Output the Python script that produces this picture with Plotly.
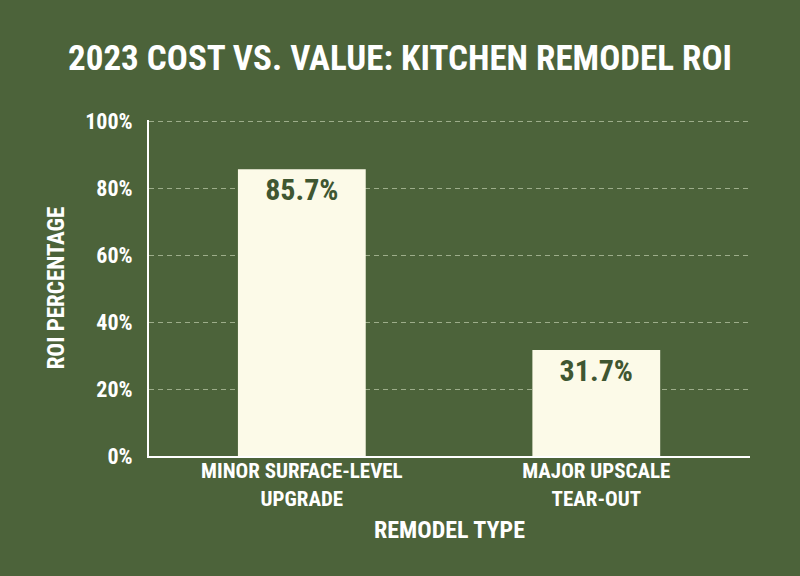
import plotly.graph_objects as go

categories = ["MINOR SURFACE-LEVEL<br>UPGRADE", "MAJOR UPSCALE<br>TEAR-OUT"]
roi_values = [85.7, 31.7]
value_labels = ["85.7%", "31.7%"]
y_ticks = [0, 20, 40, 60, 80, 100]
y_tick_labels = ["0%", "20%", "40%", "60%", "80%", "100%"]

BG = "#4c633a"
CREAM = "#fcfae8"
DARK = "#3f5631"
GRID = "#9dad8a"
FONT = "Roboto Condensed, Liberation Sans Narrow, Roboto, sans-serif"

fig = go.Figure()
fig.add_trace(
    go.Bar(
        x=categories,
        y=roi_values,
        text=value_labels,
        textposition="inside",
        insidetextanchor="end",
        textangle=0,
        textfont=dict(family=FONT, size=30, color=DARK, weight="bold"),
        marker=dict(color=CREAM, line=dict(width=0)),
        width=0.434,
        hoverinfo="skip",
    )
)

fig.update_layout(
    width=800,
    height=576,
    paper_bgcolor=BG,
    plot_bgcolor=BG,
    margin=dict(l=149, r=50, t=120, b=120),
    showlegend=False,
    title=dict(
        text="<b>2023 COST VS. VALUE: KITCHEN REMODEL ROI</b>",
        x=0.5,
        xanchor="center",
        y=0.9,
        yanchor="middle",
        font=dict(family=FONT, size=35, color="white"),
    ),
    font=dict(family=FONT, color="white"),
    uniformtext=dict(mode="show", minsize=10),
)

fig.update_xaxes(
    title=dict(text="<b>REMODEL TYPE</b>", font=dict(size=24, color="white"), standoff=12),
    tickfont=dict(size=21, color="white", weight="bold"),
    range=[-0.519, 1.522],
    showline=True,
    linecolor="white",
    linewidth=2,
    showgrid=False,
    ticks="",
    ticklabelstandoff=-5,
)

fig.update_yaxes(
    title=dict(text="<b>ROI PERCENTAGE</b>", font=dict(size=23, color="white"), standoff=14),
    range=[0, 100.4],
    tickvals=y_ticks,
    ticktext=y_tick_labels,
    tickfont=dict(size=22, color="white", weight="bold"),
    showline=True,
    linecolor="white",
    linewidth=2,
    showgrid=True,
    gridcolor=GRID,
    griddash="5px,4px",
    gridwidth=1,
    zeroline=False,
    ticks="",
    ticklabelstandoff=10,
)

# drop the page's default body margin so the figure sits flush in the window
fig.write_html(
    "out.html",
    config={"displayModeBar": False},
    post_script="document.body.style.margin='0';",
)
